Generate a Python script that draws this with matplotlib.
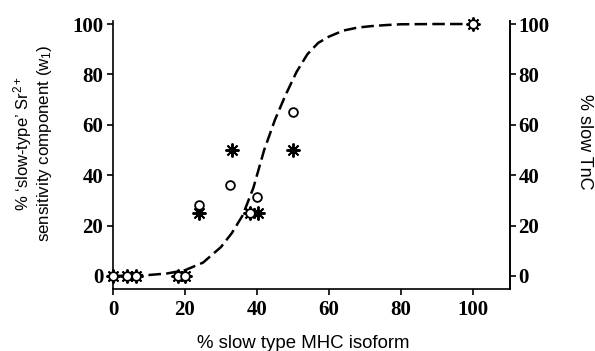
import matplotlib
matplotlib.use("Agg")
import matplotlib.pyplot as plt

plt.rcParams['mathtext.fontset'] = 'custom'
plt.rcParams['mathtext.rm'] = 'Liberation Sans'
plt.rcParams['mathtext.it'] = 'Liberation Sans:italic'
plt.rcParams['mathtext.bf'] = 'Liberation Sans:bold'
plt.rcParams['mathtext.default'] = 'regular'

# Data
mhc_w1 = [0, 4, 6.5, 18, 20, 24, 32.5, 38, 40, 50, 100]
w1 = [0, 0, 0, 0, 0, 28, 36, 25, 31.5, 65, 100]
mhc_tnc = [0, 4, 6.5, 18, 20, 24, 33, 38, 40.3, 50, 100]
tnc = [0, 0, 0, 0, 0, 25, 50, 25, 25, 50, 100]
# dashed fit curve
curve_x = [0, 5, 10, 15, 20, 25, 30, 33, 36, 39, 42, 45, 48, 51, 54, 57, 60, 64, 68, 72, 76, 80, 90, 100]
curve_y = [0, 0.2, 0.4, 1, 2.3, 5.3, 11.5, 17, 24, 35, 50, 62, 72, 81, 88, 92.5, 95, 97.4, 98.6, 99.2, 99.6, 99.9, 100, 100]
ticks = [0, 20, 40, 60, 80, 100]

fig = plt.figure(figsize=(5.95, 3.51), dpi=100)
ax = fig.add_axes([113/595, 1-289/351, 397/595, 268/351])
ax.set_xlim(0, 110.3)
ax.set_ylim(-5.16, 101.2)

ax.plot(curve_x, curve_y, color='black', lw=1.8, dashes=(5.0, 2.1), zorder=2)
ax.plot(mhc_tnc, tnc, linestyle='none', marker=(8, 2, 0), markersize=10,
        markeredgewidth=1.4, color='black', zorder=3, clip_on=False)
ax.plot(mhc_w1, w1, linestyle='none', marker='o', markersize=6.3,
        markerfacecolor='white', markeredgecolor='black', markeredgewidth=1.3,
        zorder=4, clip_on=False)

ax.spines['top'].set_visible(False)
for s in ['left', 'bottom', 'right']:
    ax.spines[s].set_linewidth(1.2)

tickfont = dict(family='Liberation Serif', weight='bold', size=15)
ax.set_xticks(ticks)
ax.set_xticklabels([str(t) for t in ticks], fontdict=tickfont)
ax.set_yticks(ticks)
ax.set_yticklabels([str(t) for t in ticks], fontdict=tickfont)
ax.tick_params(axis='y', direction='out', length=4, width=1.2, pad=3)
ax.tick_params(axis='x', direction='out', length=4, width=1.2, pad=4)

ax2 = ax.twinx()
ax2.set_ylim(ax.get_ylim())
ax2.set_yticks(ticks)
ax2.set_yticklabels([str(t) for t in ticks], fontdict=tickfont)
ax2.tick_params(direction='out', length=4, width=1.2, pad=2)
for s in ['top', 'left', 'bottom']:
    ax2.spines[s].set_visible(False)
ax2.spines['right'].set_linewidth(1.2)

fig.text(303/595, 1-347.5/351, '% slow type MHC isoform', ha='center', va='baseline',
         family='Liberation Sans', size=13.4)
fig.text(23/595, 1-143/351, "% \u2018slow-type\u2019 Sr$^{2+}$", rotation=90,
         ha='center', va='center', family='Liberation Sans', size=12)
fig.text(45/595, 1-143/351, "sensitivity component (w$_1$)", rotation=90,
         ha='center', va='center', family='Liberation Sans', size=12.2)
fig.text(584/595, 1-142/351, "% slow TnC", rotation=-90,
         ha='center', va='center', family='Liberation Sans', size=13)

fig.savefig('out.png', dpi=100)
